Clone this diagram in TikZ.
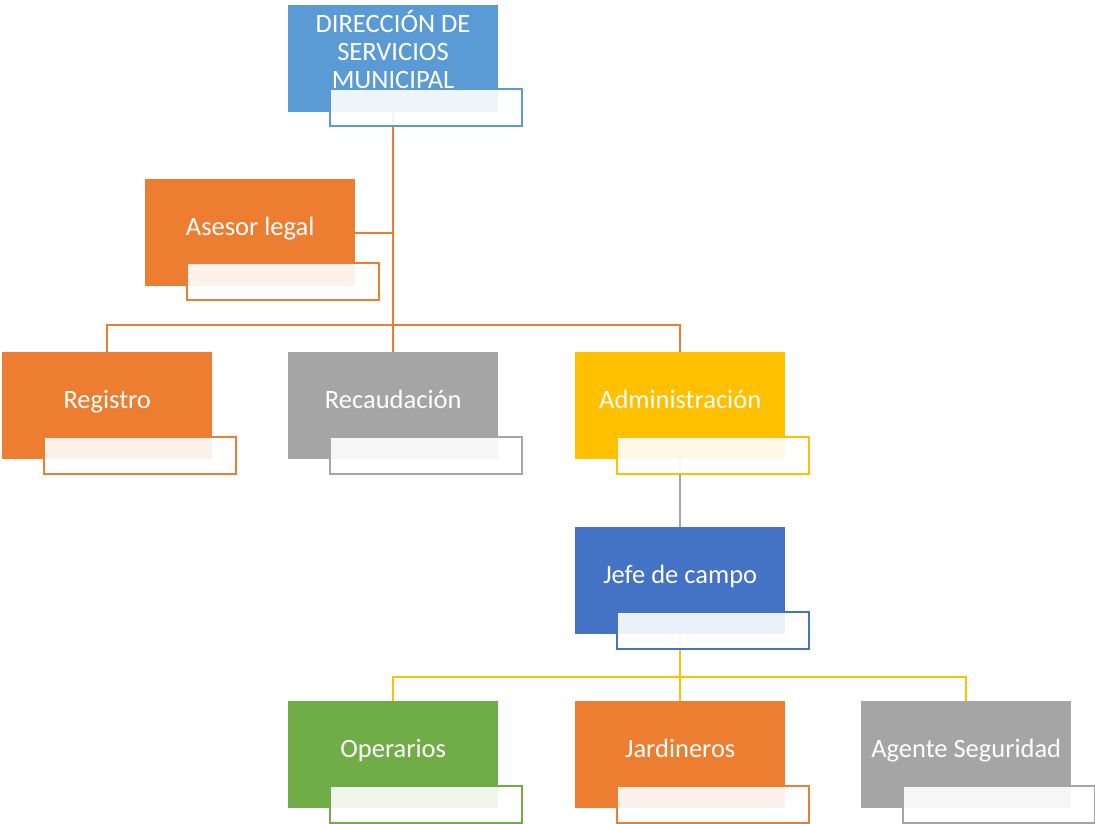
\documentclass[tikz,border=0pt]{standalone}
\usepackage{fontspec}
\setmainfont{Carlito}
\definecolor{cblue}{HTML}{5B9BD5}
\definecolor{corange}{HTML}{ED7D31}
\definecolor{cgray}{HTML}{A5A5A5}
\definecolor{cgold}{HTML}{FFC000}
\definecolor{cdblue}{HTML}{4472C4}
\definecolor{cgreen}{HTML}{70AD47}
\tikzset{
  mainbox/.style={minimum width=210pt, minimum height=107pt, inner sep=0pt, fill=#1, anchor=north west},
  subbox/.style={minimum width=192pt, minimum height=37pt, inner sep=0pt, draw=#1, line width=2.2pt, fill=white, fill opacity=0.9, draw opacity=1, anchor=north west},
  txt/.style={text=white, font=\fontsize{26.5}{28}\selectfont, align=center, inner sep=0pt},
  lbl/.style={txt, anchor=base},
  conn/.style={draw=#1, line width=2.2pt},
}
\begin{document}
\begin{tikzpicture}[x=1pt,y=-1pt]
\useasboundingbox (0,0) rectangle (1095,823);
% coordinates for buses
\coordinate (busA) at (393,325);
\coordinate (busB) at (680,677);
% main boxes (no text yet)
\node[mainbox=cblue] (top) at (288,5) {};
\node[mainbox=corange] (ase) at (145,179) {};
\node[mainbox=corange] (reg) at (2,352) {};
\node[mainbox=cgray] (rec) at (288,352) {};
\node[mainbox=cgold] (adm) at (575,352) {};
\node[mainbox=cdblue] (jef) at (575,527) {};
\node[mainbox=cgreen] (ope) at (288,701) {};
\node[mainbox=corange] (jar) at (575,701) {};
\node[mainbox=cgray] (age) at (861,701) {};
% connectors
\draw[conn=corange] (top.south) -- (rec.north);
\draw[conn=corange] (ase.east) -- (ase.east -| top.south);
\draw[conn=corange] (reg.north) |- (busA) -| (adm.north);
\draw[conn=cgray] (adm.south) -- (jef.north);
\draw[conn=cgold] (jef.south) -- (jar.north);
\draw[conn=cgold] (ope.north) |- (busB) -| (age.north);
% sub boxes
\node[subbox=cblue] (topS) at (329,88) {};
\node[subbox=corange] (aseS) at (186,262) {};
\node[subbox=corange] (regS) at (43,436) {};
\node[subbox=cgray] (recS) at (329,436) {};
\node[subbox=cgold] (admS) at (616,436) {};
\node[subbox=cdblue] (jefS) at (616,611) {};
\node[subbox=cgreen] (opeS) at (329,785) {};
\node[subbox=corange] (jarS) at (616,785) {};
\node[subbox=cgray] (ageS) at (902,785) {};
% texts
\node[txt] (topT) at (393,50) {DIRECCIÓN DE\\SERVICIOS\\MUNICIPAL};
\node[lbl] (aseT) at ([yshift=-2.5pt]ase.center) {Asesor legal};
\node[lbl] (regT) at ([yshift=-2.5pt]reg.center) {Registro};
\node[lbl] (recT) at ([yshift=-2.5pt]rec.center) {Recaudación};
\node[lbl] (admT) at ([yshift=-2.5pt]adm.center) {Administración};
\node[lbl] (jefT) at ([yshift=-2.5pt]jef.center) {Jefe de campo};
\node[lbl] (opeT) at ([yshift=-2.5pt]ope.center) {Operarios};
\node[lbl] (jarT) at ([yshift=-2.5pt]jar.center) {Jardineros};
\node[lbl] (ageT) at ([yshift=-2.5pt]age.center) {Agente Seguridad};
\end{tikzpicture}
\end{document}
